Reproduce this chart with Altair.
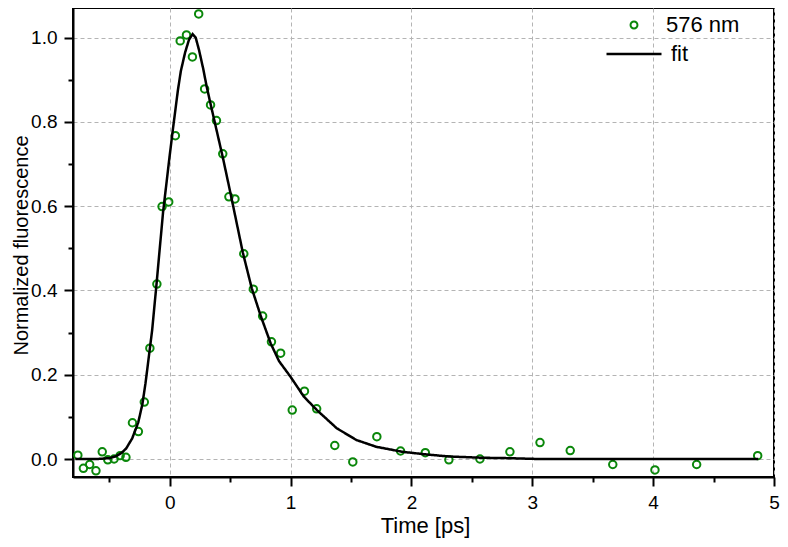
import altair as alt
import pandas as pd

# measured data points (Time [ps], normalized fluorescence)
pt_x = [-0.76, -0.714, -0.662, -0.61, -0.558, -0.512, -0.46, -0.41, -0.362,
        -0.308, -0.259, -0.21, -0.164, -0.106, -0.063, -0.008, 0.047, 0.087,
        0.139, 0.188, 0.24, 0.289, 0.338, 0.387, 0.439, 0.49, 0.54, 0.613,
        0.692, 0.769, 0.842, 0.918, 1.014, 1.115, 1.216, 1.366, 1.515, 1.714,
        1.91, 2.115, 2.31, 2.567, 2.815, 3.064, 3.314, 3.666, 4.015, 4.36, 4.865]
pt_y = [0.009, -0.022, -0.013, -0.028, 0.017, -0.002, 0.0, 0.008, 0.004,
        0.086, 0.065, 0.135, 0.263, 0.415, 0.599, 0.610, 0.767, 0.992,
        1.006, 0.954, 1.056, 0.878, 0.84, 0.803, 0.724, 0.622, 0.617, 0.487,
        0.403, 0.339, 0.278, 0.251, 0.116, 0.161, 0.119, 0.032, -0.007, 0.053,
        0.019, 0.015, -0.002, 0.0, 0.017, 0.039, 0.02, -0.013, -0.026, -0.013, 0.008]

# fit curve
fit_x = [-0.78, -0.6, -0.5, -0.45, -0.40, -0.36, -0.31, -0.26, -0.226, -0.2,
         -0.145, -0.109, -0.055, 0.0, 0.03, 0.068, 0.092, 0.128, 0.16, 0.19,
         0.215, 0.243, 0.278, 0.305, 0.34, 0.38, 0.44, 0.496, 0.523, 0.605,
         0.679, 0.755, 0.836, 0.905, 1.0, 1.11, 1.218, 1.382, 1.545, 1.709,
         1.927, 2.118, 2.308, 2.58, 2.8, 3.05, 4.87]
fit_y = [0.0, 0.0, 0.002, 0.006, 0.014, 0.025, 0.049, 0.087, 0.13, 0.18,
         0.306, 0.415, 0.585, 0.72, 0.79, 0.875, 0.92, 0.965, 0.995, 1.008,
         1.0, 0.97, 0.925, 0.885, 0.84, 0.79, 0.715, 0.64, 0.603, 0.49,
         0.405, 0.338, 0.274, 0.232, 0.195, 0.148, 0.116, 0.073, 0.045, 0.029,
         0.017, 0.011, 0.006, 0.003, 0.002, 0.0, 0.0]

series_pts = "576 nm"
series_fit = "fit"

x_ticks = [-0.5, 0, 0.5, 1, 1.5, 2, 2.5, 3, 3.5, 4, 4.5, 5]
y_ticks = [round(i * 0.1, 1) for i in range(11)]

pts = pd.DataFrame({"t": pt_x, "v": pt_y, "s": series_pts})
fit = pd.DataFrame({"t": fit_x, "v": fit_y, "s": series_fit})

FONT = "Liberation Sans"
GREEN = "#0a870a"

x_major = "abs(datum.value - round(datum.value)) < 0.001"
y_major = "abs(datum.value * 5 - round(datum.value * 5)) < 0.001"

xscale = alt.Scale(domain=[-0.8, 5.0], nice=False, zero=False)
yscale = alt.Scale(domain=[-0.0427, 1.070], nice=False, zero=False)

xaxis = alt.Axis(
    values=x_ticks,
    labelExpr=f"{x_major} ? format(datum.value, 'd') : ''",
    tickSize={"condition": {"test": x_major, "value": 9}, "value": 5},
    gridOpacity={"condition": {"test": x_major, "value": 1}, "value": 0},
    title="Time [ps]",
    titleX=352, titleY=55, titleBaseline="alphabetic", titleAnchor="middle",
    labelPadding=7,
)
yaxis = alt.Axis(
    values=y_ticks,
    labelExpr=f"{y_major} ? format(datum.value, '.1f') : ''",
    tickSize={"condition": {"test": y_major, "value": 9}, "value": 5},
    gridOpacity={"condition": {"test": y_major, "value": 1}, "value": 0},
    title="Normalized fluorescence",
    titleX=-46, titleY=237, titleBaseline="alphabetic", titleAlign="center",
    titleFontSize=20,
    labelPadding=7,
)

points = alt.Chart(pts).mark_point(
    shape="circle", filled=False, size=56, strokeWidth=2, opacity=1
).encode(
    x=alt.X("t:Q", scale=xscale, axis=xaxis),
    y=alt.Y("v:Q", scale=yscale, axis=yaxis),
    color=alt.Color(
        "s:N",
        scale=alt.Scale(domain=[series_pts], range=[GREEN]),
        legend=alt.Legend(
            orient="none", legendX=550, legendY=6, title=None,
            symbolType="circle", symbolSize=48, symbolStrokeWidth=2,
            symbolOpacity=1, labelOffset=21, padding=0,
        ),
    ),
)

line = alt.Chart(fit).mark_line(color="black", strokeWidth=2.5).encode(
    x=alt.X("t:Q", scale=xscale),
    y=alt.Y("v:Q", scale=yscale),
    strokeDash=alt.StrokeDash(
        "s:N",
        scale=alt.Scale(domain=[series_fit], range=[[1, 0]]),
        legend=alt.Legend(
            orient="none", legendX=532, legendY=17, title=None,
            symbolType="stroke", symbolSize=3025, symbolStrokeColor="black",
            symbolStrokeWidth=2.5, labelOffset=8, padding=0,
        ),
    ),
)

chart = alt.layer(points, line).properties(
    width=701, height=469,
    autosize=alt.AutoSizeParams(type="none"),
    padding={"left": 65, "top": 0, "right": 6, "bottom": 62},
).configure(
    font=FONT,
).configure_view(
    stroke="black", strokeWidth=2,
).configure_axis(
    labelFont=FONT, labelFontSize=19, labelColor="black",
    titleFont=FONT, titleFontSize=22, titleFontWeight="normal", titleColor="black",
    domainColor="black", domainWidth=2,
    tickColor="black", tickWidth=2,
    gridColor="#b4b4b4", gridDash=[4, 3], gridWidth=1,
    labelFlush=False, labelOverlap=False,
).configure_legend(
    labelFont=FONT, labelFontSize=22, labelColor="black", labelLimit=300,
)

chart.save("out.html", embed_options={"renderer": "svg", "actions": False})
